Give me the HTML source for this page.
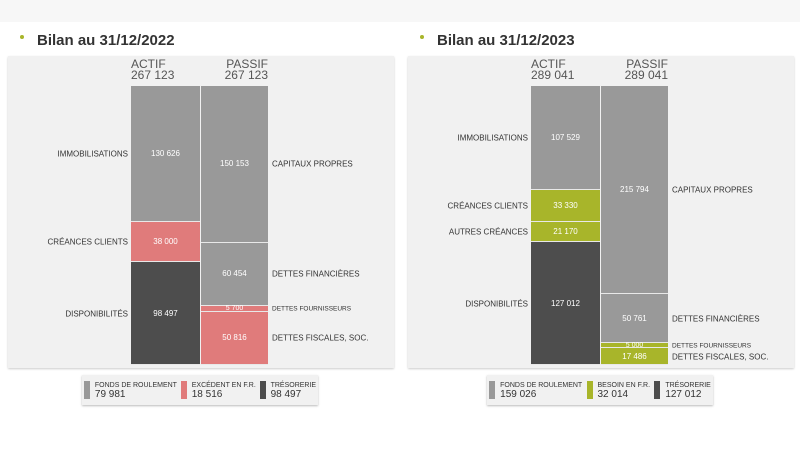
<!DOCTYPE html>
<html><head><meta charset="utf-8">
<style>
body{margin:0;width:800px;height:450px;background:#fff;font-family:"Liberation Sans",sans-serif;position:relative;overflow:hidden}
.topband{position:absolute;left:0;top:0;width:800px;height:22px;background:#f7f7f7}
.title{position:absolute;top:32px;font-size:15px;font-weight:bold;color:#333}
.bullet{position:absolute;top:35px;width:4px;height:4px;border-radius:2px;background:#a8b52a}
.panel{position:absolute;top:56px;width:386px;height:312px;background:#f1f1f1;box-shadow:0 1px 2px #ccc}
.hdr{position:absolute;font-size:12px;color:#555;line-height:11px}
.seg{position:absolute;box-sizing:border-box;border-bottom:1px solid #e8e8e8;color:#fff;font-size:8px;display:flex;align-items:center;justify-content:center}
.lab{position:absolute;font-size:8px;color:#333;white-space:nowrap;transform:translateY(-50%)}
.legend{position:absolute;top:375px;height:30px;background:#f1f1f1;box-shadow:0 1px 2px #bbb;display:flex;align-items:center;justify-content:space-around}
.li{display:flex;align-items:center;font-size:7px;color:#333;line-height:9px}
.li b{font-weight:normal;font-size:10px;display:block}
.sw{width:6px;height:18px;margin-right:5px}
</style></head><body>
<div class="topband"></div>
<div id="root"></div>
<script>
const years=["2022","2023"];
const totals=[267123,289041];
const actifLabels=[["IMMOBILISATIONS","CRÉANCES CLIENTS","DISPONIBILITÉS"],["IMMOBILISATIONS","CRÉANCES CLIENTS","AUTRES CRÉANCES","DISPONIBILITÉS"]];
const actifValues=[[130626,38000,98497],[107529,33330,21170,127012]];
const actifKinds=[["fr","bfr","tr"],["fr","bfr","bfr","tr"]];
const passifLabels=[["CAPITAUX PROPRES","DETTES FINANCIÈRES","DETTES FOURNISSEURS","DETTES FISCALES, SOC."],["CAPITAUX PROPRES","DETTES FINANCIÈRES","DETTES FOURNISSEURS","DETTES FISCALES, SOC."]];
const passifValues=[[150153,60454,5700,50816],[215794,50761,5000,17486]];
const passifKinds=[["fr","fr","bfr","bfr"],["fr","fr","bfr","bfr"]];
const legendLabels=[["FONDS DE ROULEMENT","EXCÉDENT EN F.R.","TRÉSORERIE"],["FONDS DE ROULEMENT","BESOIN EN F.R.","TRÉSORERIE"]];
const legendValues=[[79981,18516,98497],[159026,32014,127012]];
const bfrColors=["#e07b7b","#a8b52a"];
const fmt=v=>String(v).replace(/\B(?=(\d{3})+(?!\d))/g," ");
const root=document.getElementById('root');
const TOP=86,BOT=365;
function mk(cls,parent){const d=document.createElement('div');d.className=cls;parent.appendChild(d);return d;}
years.forEach((yr,i)=>{
  const ox=i*400;
  const color=k=>k==="fr"?"#999999":k==="tr"?"#4d4d4d":bfrColors[i];
  const y=v=>v/totals[i]*(BOT-TOP);
  let b=mk('bullet',root);b.style.left=(ox+20)+'px';
  
  
  let t=mk('title',root);t.style.left=(ox+37)+'px';t.textContent='Bilan au 31/12/'+yr;
  
  
  let p=mk('panel',root);p.style.left=(ox+8)+'px';
  
  
  let ha=mk('hdr',root);ha.style.left=(ox+131)+'px';ha.style.top='59px';ha.innerHTML='ACTIF<br>'+fmt(totals[i]);
  
  
  let hp=mk('hdr',root);hp.style.left=(ox+200)+'px';hp.style.width='68px';hp.style.textAlign='right';hp.style.top='59px';hp.innerHTML='PASSIF<br>'+fmt(totals[i]);
  
  
  const cols=[[actifValues[i],actifLabels[i],actifKinds[i],131,69,'actif'],[passifValues[i],passifLabels[i],passifKinds[i],201,67,'passif']];
  cols.forEach(([vals,labs,kinds,x,w,side])=>{
    let acc=0;
    vals.forEach((v,j)=>{
      const y0=TOP+y(acc),h=y(v);acc+=v;
      let s=mk('seg',root);
      
      
      s.style.left=(ox+x)+'px';s.style.width=w+'px';s.style.top=y0+'px';s.style.height=h+'px';
      s.style.background=color(kinds[j]);s.textContent=fmt(v);
      if(h<10)s.style.fontSize='7px';
      let l=mk('lab',root);
      
      
      l.textContent=labs[j];
      l.style.top=(y0+h/2)+'px';
      if(h<10)l.style.fontSize='6.5px';
      if(side==='actif'){l.style.right=(800-(ox+128))+'px';}else{l.style.left=(ox+272)+'px';}
    });
  });
  let lg=mk('legend',root);
  
  
  lg.style.left=(ox+(i?87:82))+'px';lg.style.width=(i?226:236)+'px';
  ["fr","bfr","tr"].forEach((k,j)=>{
    let it=mk('li',lg);
    
    
    let sw=mk('sw',it);sw.style.background=color(k);
    let tx=mk('',it);tx.innerHTML=legendLabels[i][j]+'<b>'+fmt(legendValues[i][j])+'</b>';
  });
});
</script>
</body></html>
